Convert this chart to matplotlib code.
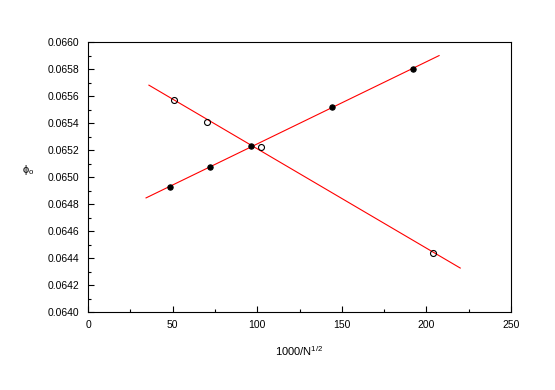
import numpy as np
import matplotlib
matplotlib.use("Agg")
import matplotlib.pyplot as plt
from matplotlib.ticker import MultipleLocator

plt.rcParams['font.family'] = ['Liberation Sans', 'DejaVu Sans']
plt.rcParams['font.size'] = 7.5
plt.rcParams['mathtext.default'] = 'regular'

# filled points
x_filled = [48.5, 72.1, 96.3, 144.2, 192.1]
y_filled = [0.064926, 0.065074, 0.065230, 0.065519, 0.065800]
# open points
x_open = [50.8, 70.3, 102.2, 203.9]
y_open = [0.065570, 0.065407, 0.065222, 0.064437]
# range of the fitted lines
fit_filled_x = [34.3, 207.5]
fit_open_x = [36.0, 220.0]

fig = plt.figure(figsize=(5.55, 3.9), dpi=100)
ax = fig.add_axes([0.1586, 0.2, 0.7621, 0.6923])

p1 = np.polyfit(x_filled, y_filled, 1)
p2 = np.polyfit(x_open, y_open, 1)
xf = np.array(fit_filled_x)
xo = np.array(fit_open_x)
ax.plot(xf, np.polyval(p1, xf), color='red', lw=0.8)
ax.plot(xo, np.polyval(p2, xo), color='red', lw=0.8)

ax.plot(x_filled, y_filled, 'o', ms=3.8, mfc='black', mec='black', mew=0.8)
ax.plot(x_open, y_open, 'o', ms=4.3, mfc='none', mec='black', mew=0.8)

ax.set_xlim(0, 250)
ax.set_ylim(0.0640, 0.0660)
ax.xaxis.set_major_locator(MultipleLocator(50))
ax.xaxis.set_minor_locator(MultipleLocator(25))
ax.yaxis.set_major_locator(MultipleLocator(0.0002))
ax.yaxis.set_minor_locator(MultipleLocator(0.0001))
ax.yaxis.set_major_formatter(plt.FormatStrFormatter('%.4f'))
ax.tick_params(which='both', direction='in', top=False, right=False, width=0.8)
ax.tick_params(which='major', length=4, pad=6)
ax.tick_params(which='minor', length=2)
for s in ax.spines.values():
    s.set_linewidth(0.8)

ax.set_xlabel(r'1000/N$^{1/2}$', fontsize=8, labelpad=10)
ax.set_ylabel(r'ϕ$_o$', fontsize=8, rotation=0, labelpad=14)

fig.savefig('out.png', dpi=100)
